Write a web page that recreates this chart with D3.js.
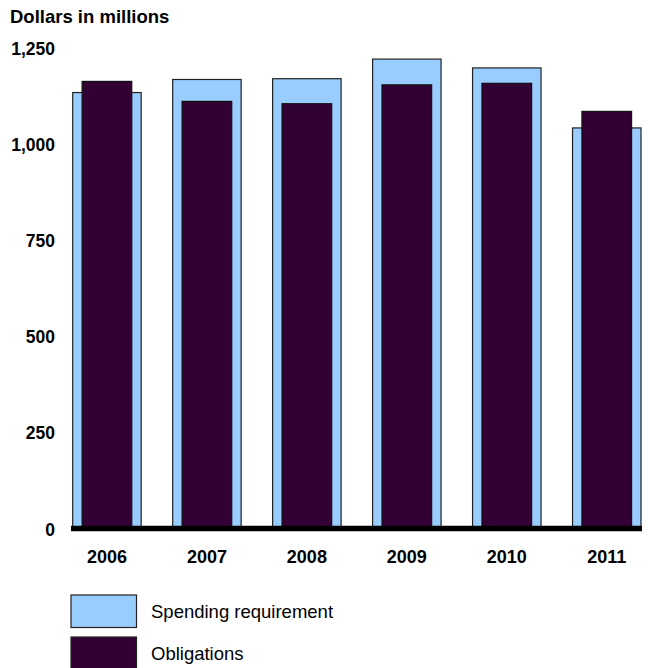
<!DOCTYPE html>
<html>
<head>
<meta charset="utf-8">
<script src="https://cdn.jsdelivr.net/npm/d3@7"></script>
<style>
  html, body { margin: 0; padding: 0; background: #fff; }
  svg { display: block; font-family: "Liberation Sans", Arial, sans-serif; }
</style>
</head>
<body>
<svg id="chart" width="648" height="668"></svg>
<script>
// Fiscal years shown on the x axis
const years = ["2006", "2007", "2008", "2009", "2010", "2011"];
// Dollars in millions
const spendingRequirement = [1136, 1170, 1172, 1223, 1200, 1044];
const obligations = [1165, 1113, 1107, 1156, 1160, 1087];
const yTicks = [0, 250, 500, 750, 1000, 1250];
const seriesNames = ["Spending requirement", "Obligations"];
const seriesColors = ["#99ccff", "#330033"];

const svg = d3.select("#chart");

const x = d3.scaleBand()
  .domain(years)
  .range([72.7, 641])
  .paddingInner(0.315)
  .paddingOuter(0);

const y = d3.scaleLinear()
  .domain([0, 1250])
  .range([529.5, 48.7]);

// Title
svg.append("text")
  .attr("x", 10)
  .attr("y", 23)
  .attr("font-size", 18.5)
  .attr("font-weight", "bold")
  .attr("fill", "#000")
  .text("Dollars in millions");

// Y axis tick labels (no axis line)
const yAxis = d3.axisLeft(y).tickValues(yTicks).tickSize(0).tickPadding(0)
  .tickFormat(d3.format(","));
const gy = svg.append("g").attr("transform", "translate(55,0)").call(yAxis);
gy.select(".domain").remove();
gy.selectAll("text")
  .attr("font-size", 17.5)
  .attr("font-weight", "bold")
  .attr("font-family", "Liberation Sans, Arial, sans-serif")
  .attr("fill", "#000");

// Spending requirement bars (wide)
const wide = x.bandwidth();
svg.append("g").selectAll("rect")
  .data(years)
  .join("rect")
  .attr("x", d => x(d))
  .attr("width", wide)
  .attr("y", (d, i) => y(spendingRequirement[i]))
  .attr("height", (d, i) => y(0) - y(spendingRequirement[i]))
  .attr("fill", seriesColors[0])
  .attr("stroke", "#222")
  .attr("stroke-width", 1.2);

// Obligations bars (narrow, drawn in front)
const narrow = wide * 0.725;
svg.append("g").selectAll("rect")
  .data(years)
  .join("rect")
  .attr("x", d => x(d) + (wide - narrow) / 2)
  .attr("width", narrow)
  .attr("y", (d, i) => y(obligations[i]))
  .attr("height", (d, i) => y(0) - y(obligations[i]))
  .attr("fill", seriesColors[1])
  .attr("stroke", "#111")
  .attr("stroke-width", 1.2);

// Baseline
svg.append("line")
  .attr("x1", 71).attr("x2", 642)
  .attr("y1", y(0) - 1).attr("y2", y(0) - 1)
  .attr("stroke", "#000")
  .attr("stroke-width", 5.5);

// X axis labels
const xAxis = d3.axisBottom(x).tickSize(0).tickPadding(0);
const gx = svg.append("g").attr("transform", "translate(0,550)").call(xAxis);
gx.select(".domain").remove();
gx.selectAll("text")
  .attr("font-size", 18)
  .attr("font-weight", "bold")
  .attr("font-family", "Liberation Sans, Arial, sans-serif")
  .attr("fill", "#000");

// Legend
const legend = svg.append("g");
const legendTops = [595, 637];
seriesNames.forEach((name, i) => {
  legend.append("rect")
    .attr("x", 71).attr("y", legendTops[i])
    .attr("width", 65.5).attr("height", 32.5)
    .attr("fill", seriesColors[i])
    .attr("stroke", "#222")
    .attr("stroke-width", 1.2);
  legend.append("text")
    .attr("x", 151).attr("y", legendTops[i] + 17)
    .attr("dy", "0.35em")
    .attr("font-size", 18.5)
    .attr("fill", "#000")
    .text(name);
});
</script>
</body>
</html>
